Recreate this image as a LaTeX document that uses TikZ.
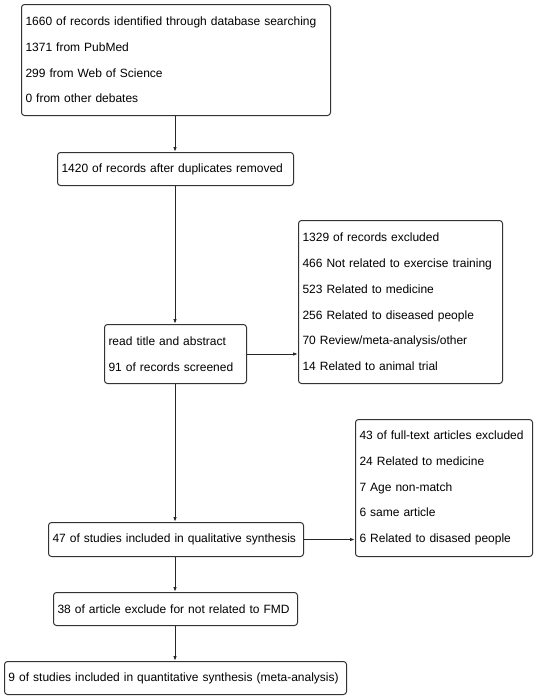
\documentclass[tikz,border=0pt]{standalone}
\usepackage{fontspec}
\setmainfont{Liberation Sans}
\usetikzlibrary{positioning, arrows.meta, calc}
\hyphenpenalty=10000
\exhyphenpenalty=10000
\tikzset{
    stage/.style={draw=black!80, line width=1pt, rounded corners=3pt,
        inner xsep=4pt, inner ysep=0pt, align=left, anchor=north west,
        font=\fontsize{12}{25.8}\selectfont},
    flow/.style={draw=black!85, line width=1pt, -{Latex[length=5pt,width=3.5pt]}},
}

\begin{document}
\begin{tikzpicture}[x=1pt, y=-1pt]
    \useasboundingbox (0,0) rectangle (536,699);

    % main column
    \node[stage, text width=301pt, minimum height=111pt] (search) at (21,4)
      {1660 of records identified through database searching\\
       1371 from PubMed\\
       299 from Web of Science\\
       0 from other debates};
    \node[stage, text width=228pt, minimum height=33pt] (dedup) at (57,152)
      {1420 of records after duplicates removed};
    \node[stage, text width=134pt, minimum height=59pt] (screen) at (104,324)
      {read title and abstract\\
       91 of records screened};
    \node[stage, text width=247pt, minimum height=34pt] (qual) at (48,522)
      {47 of studies included in qualitative synthesis};
    \node[stage, text width=236pt, minimum height=33pt] (fmd) at (53,592)
      {38 of article exclude for not related to FMD};
    \node[stage, text width=334pt, minimum height=33pt] (quant) at (4,661)
      {9 of studies included in quantitative synthesis (meta-analysis)};

    % exclusions
    \node[stage, text width=196pt, minimum height=163pt] (excl1) at (298,220)
      {1329 of records excluded\\
       466 Not related to exercise training\\
       523 Related to medicine\\
       256 Related to diseased people\\
       70 Review/meta-analysis/other\\
       14 Related to animal trial};
    \node[stage, text width=169pt, minimum height=137pt] (excl2) at (355,419)
      {43 of full-text articles excluded\\
       24 Related to medicine\\
       7 Age non-match\\
       6 same article\\
       6 Related to disased people};

    \coordinate (axis) at (175,0);

    \draw[flow] (search.south -| axis) -- (dedup.north -| axis);
    \draw[flow] (dedup.south -| axis) -- (screen.north -| axis);
    \draw[flow] (screen.south -| axis) -- (qual.north -| axis);
    \draw[flow] (qual.south -| axis) -- (fmd.north -| axis);
    \draw[flow] (fmd.south -| axis) -- (quant.north -| axis);

    \draw[flow] (screen.east) -- (screen.east -| excl1.west);
    \draw[flow] (qual.east) -- (qual.east -| excl2.west);

\end{tikzpicture}
\end{document}
